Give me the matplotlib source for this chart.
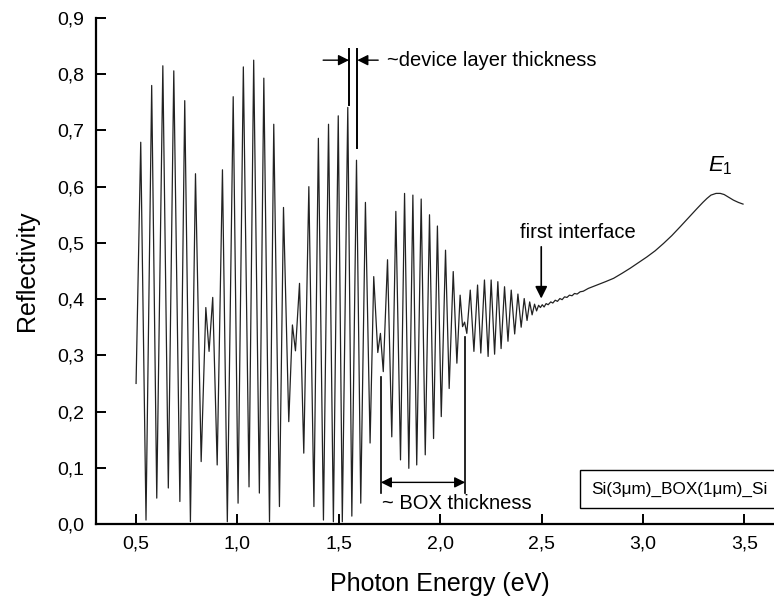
import matplotlib
matplotlib.use("Agg")
import matplotlib.pyplot as plt
from matplotlib.ticker import FuncFormatter

plt.rcParams['font.family'] = ['Liberation Sans', 'DejaVu Sans']
plt.rcParams['mathtext.fontset'] = 'custom'
plt.rcParams['mathtext.it'] = 'Liberation Sans:italic'
plt.rcParams['mathtext.rm'] = 'Liberation Sans'

# Photon energy (eV) at extrema / read points of the reflectivity spectrum
energy = [
    0.500, 0.523, 0.549, 0.577, 0.602, 0.632, 0.659, 0.686, 0.716, 0.740,
    0.768, 0.793, 0.821, 0.844, 0.860, 0.878, 0.900, 0.926, 0.950, 0.979,
    1.003, 1.029, 1.057, 1.080, 1.108, 1.130, 1.158, 1.179, 1.207, 1.227,
    1.253, 1.271, 1.286, 1.306, 1.327, 1.352, 1.377, 1.399, 1.424, 1.449,
    1.473, 1.497, 1.517, 1.544, 1.564, 1.587, 1.608, 1.631, 1.654, 1.672,
    1.692, 1.705, 1.719, 1.740, 1.761, 1.781, 1.804, 1.824, 1.845, 1.865,
    1.884, 1.906, 1.926, 1.947, 1.967, 1.986, 2.005, 2.026, 2.044, 2.064,
    2.082, 2.098, 2.110, 2.120, 2.131, 2.148, 2.166, 2.184, 2.200, 2.218,
    2.236, 2.251, 2.268, 2.284, 2.300, 2.317, 2.334, 2.350, 2.367, 2.383,
    2.399, 2.414, 2.428, 2.441, 2.453, 2.465, 2.475, 2.485, 2.494, 2.503,
    2.512, 2.522, 2.532, 2.545, 2.555, 2.567, 2.578, 2.590, 2.601, 2.613,
    2.625, 2.637, 2.650, 2.662, 2.675, 2.690, 2.705, 2.730, 2.773, 2.815,
    2.855, 2.897, 2.937, 2.978, 3.019, 3.060, 3.101, 3.142, 3.184, 3.225,
    3.266, 3.295, 3.315, 3.335, 3.360, 3.381, 3.400, 3.414, 3.446, 3.470,
    3.493,
]
reflectivity = [
    0.250, 0.679, 0.007, 0.780, 0.046, 0.815, 0.064, 0.806, 0.040, 0.753,
    0.004, 0.623, 0.111, 0.385, 0.307, 0.403, 0.105, 0.630, 0.004, 0.760,
    0.037, 0.813, 0.066, 0.825, 0.055, 0.793, 0.004, 0.711, 0.031, 0.563,
    0.182, 0.354, 0.308, 0.428, 0.126, 0.600, 0.031, 0.686, 0.007, 0.711,
    0.004, 0.726, 0.004, 0.741, 0.014, 0.647, 0.037, 0.572, 0.144, 0.440,
    0.305, 0.339, 0.271, 0.470, 0.155, 0.556, 0.114, 0.588, 0.099, 0.585,
    0.105, 0.578, 0.123, 0.550, 0.152, 0.530, 0.191, 0.487, 0.241, 0.449,
    0.286, 0.407, 0.351, 0.359, 0.339, 0.416, 0.307, 0.425, 0.304, 0.434,
    0.298, 0.434, 0.302, 0.431, 0.312, 0.422, 0.325, 0.416, 0.338, 0.409,
    0.350, 0.401, 0.362, 0.395, 0.372, 0.391, 0.379, 0.389, 0.385, 0.390,
    0.386, 0.392, 0.390, 0.395, 0.393, 0.398, 0.396, 0.401, 0.399, 0.404,
    0.403, 0.407, 0.406, 0.410, 0.409, 0.413, 0.414, 0.419, 0.425, 0.431,
    0.437, 0.446, 0.455, 0.465, 0.475, 0.486, 0.499, 0.513, 0.529, 0.545,
    0.561, 0.572, 0.579, 0.585, 0.588, 0.588, 0.586, 0.583, 0.576, 0.572,
    0.569,
]

x_ticks = [0.5, 1.0, 1.5, 2.0, 2.5, 3.0, 3.5]
y_ticks = [0.0, 0.1, 0.2, 0.3, 0.4, 0.5, 0.6, 0.7, 0.8, 0.9]

fig = plt.figure(figsize=(7.74, 6.02), dpi=100)
ax = fig.add_axes([0.1234, 0.1296, 0.8908, 0.8405])

ax.plot(energy, reflectivity, color='#222222', lw=0.9)

ax.set_xlim(0.3, 3.7)
ax.set_ylim(0.0, 0.9)
ax.set_xticks(x_ticks)
ax.set_yticks(y_ticks)
fmt = FuncFormatter(lambda v, p: f"{v:.1f}".replace('.', ','))
ax.xaxis.set_major_formatter(fmt)
ax.yaxis.set_major_formatter(fmt)
ax.tick_params(direction='in', length=7, width=1.4, labelsize=14, pad=8,
               top=False, right=False)

for s in ['top', 'right']:
    ax.spines[s].set_visible(False)
for s in ['left', 'bottom']:
    ax.spines[s].set_linewidth(1.6)

ax.set_xlabel('Photon Energy (eV)', fontsize=18, labelpad=14)
ax.set_ylabel('Reflectivity', fontsize=18, labelpad=13)

ann_fs = 14.5
# device layer thickness annotation
ax.plot([1.552, 1.552], [0.745, 0.845], color='black', lw=1.4)
ax.plot([1.589, 1.589], [0.669, 0.845], color='black', lw=1.4)
ax.annotate('', xy=(1.550, 0.825), xytext=(1.4225, 0.825),
            arrowprops=dict(arrowstyle='-|>', color='black', lw=1.0,
                            mutation_scale=16, shrinkA=0, shrinkB=0))
ax.annotate('', xy=(1.591, 0.825), xytext=(1.694, 0.825),
            arrowprops=dict(arrowstyle='-|>', color='black', lw=1.0,
                            mutation_scale=16, shrinkA=0, shrinkB=0))
ax.text(1.737, 0.825, '~device layer thickness', fontsize=ann_fs,
        ha='left', va='center')

# BOX thickness annotation
ax.plot([1.707, 1.707], [0.055, 0.262], color='black', lw=1.2)
ax.plot([2.123, 2.123], [0.055, 0.333], color='black', lw=1.2)
ax.annotate('', xy=(1.707, 0.074), xytext=(2.123, 0.074),
            arrowprops=dict(arrowstyle='<|-|>', color='black', lw=1.0,
                            mutation_scale=16, shrinkA=0, shrinkB=0))
ax.text(1.712, 0.036, '~ BOX thickness', fontsize=ann_fs, ha='left', va='center')

# first interface
ax.annotate('', xy=(2.498, 0.401), xytext=(2.498, 0.493),
            arrowprops=dict(arrowstyle='-|>', color='black', lw=1.2,
                            mutation_scale=18, shrinkA=0, shrinkB=0))
ax.text(2.678, 0.519, 'first interface', fontsize=ann_fs, ha='center', va='center')

# E1
ax.text(3.381, 0.637, r'$\mathit{E}_1$', fontsize=16, ha='center', va='center')

# sample label box
ax.text(2.745, 0.062, 'Si(3\u03bcm)_BOX(1\u03bcm)_Si', fontsize=12.3, ha='left',
        va='center', clip_on=False,
        bbox=dict(boxstyle='square,pad=0.65', facecolor='white',
                  edgecolor='black', lw=1.0))

fig.savefig('out.png', dpi=100)
